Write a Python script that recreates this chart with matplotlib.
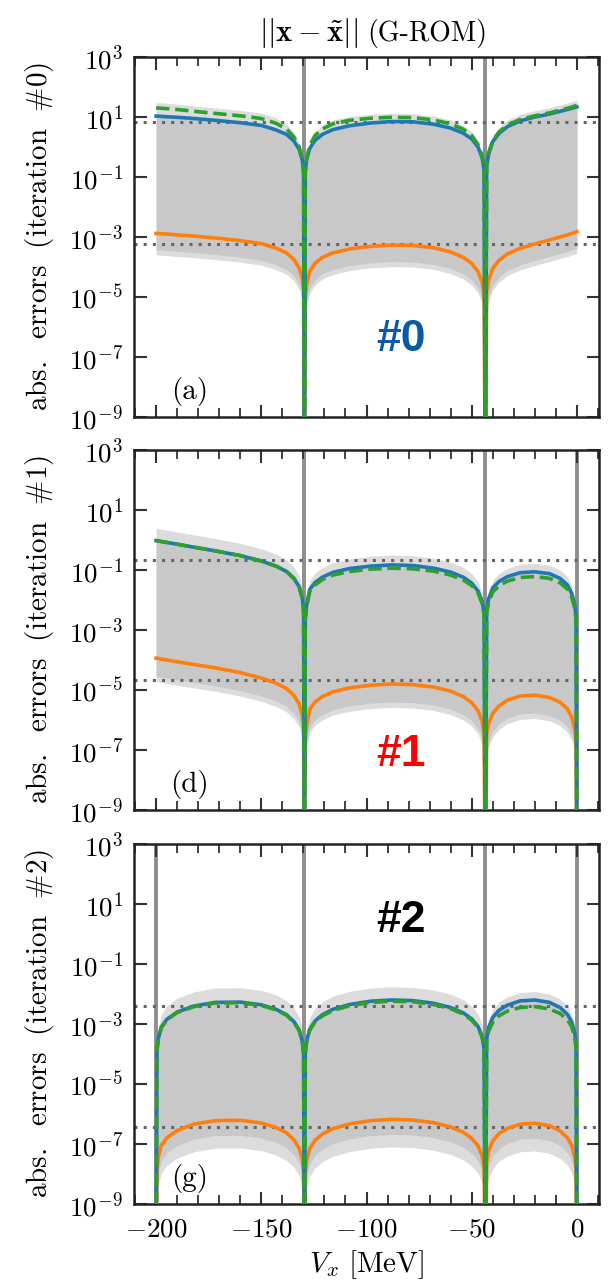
import numpy as np
import matplotlib
matplotlib.use("Agg")
import matplotlib.pyplot as plt
from matplotlib.ticker import MultipleLocator, NullLocator

# ---------------------------------------------------------------------------
# Data: absolute emulator errors vs. V_x (MeV), stored as log10 values
# ---------------------------------------------------------------------------
V = [-200, -199.6, -199, -197.5, -195, -190, -182, -172, -160, -150, -143, -138,
     -134.5, -132, -130.5, -129.9, -129.5, -129.1, -128.5, -127, -124.5, -121,
     -116, -108, -98, -88, -78, -68, -60, -54, -50, -47, -45, -44.1, -43.5,
     -42.9, -42, -40, -37, -33, -27, -20, -13, -8, -4.5, -2.5, -1, -0.4, 0]

# iteration #0
it0_blue = [1.03, 1.03, 1.03, 1.02, 1.01, 0.99, 0.95, 0.89, 0.81, 0.72, 0.57, 0.42, 0.2, -0.08, -0.45, -0.85, -12,
            -0.85, -0.45, -0.05, 0.22, 0.42, 0.58, 0.71, 0.8, 0.85, 0.84, 0.76, 0.63, 0.46, 0.27, 0.0, -0.37, -0.77, -12,
            -0.65, -0.25, 0.18, 0.45, 0.68, 0.87, 1.0, 1.1, 1.19, 1.25, 1.29, 1.32, 1.33, 1.34]
it0_green = [1.3, 1.3, 1.3, 1.29, 1.28, 1.25, 1.19, 1.12, 1.04, 0.95, 0.79, 0.6, 0.33, 0.0, -0.4, -0.8, -12,
             -0.8, -0.4, 0.05, 0.38, 0.6, 0.77, 0.89, 0.96, 0.99, 0.98, 0.9, 0.77, 0.59, 0.38, 0.08, -0.3, -0.72, -12,
             -0.6, -0.2, 0.22, 0.5, 0.73, 0.92, 1.04, 1.14, 1.23, 1.29, 1.33, 1.36, 1.38, 1.39]
it0_orange = [-2.88, -2.88, -2.88, -2.89, -2.9, -2.93, -2.97, -3.03, -3.12, -3.22, -3.37, -3.53, -3.75, -4.03, -4.4, -4.8, -12,
              -5.0, -4.6, -4.15, -3.88, -3.68, -3.53, -3.4, -3.31, -3.27, -3.28, -3.36, -3.5, -3.68, -3.88, -4.15, -4.52, -4.92, -12,
              -4.85, -4.45, -4.05, -3.78, -3.56, -3.38, -3.23, -3.1, -3.0, -2.93, -2.88, -2.85, -2.83, -2.82]
it0_band_top = [1.48, 1.48, 1.48, 1.47, 1.46, 1.43, 1.37, 1.3, 1.22, 1.13, 0.97, 0.77, 0.5, 0.15, -0.3, -0.72, -12,
                -0.72, -0.3, 0.17, 0.5, 0.72, 0.9, 1.02, 1.09, 1.12, 1.11, 1.03, 0.9, 0.72, 0.51, 0.2, -0.2, -0.65, -12,
                -0.5, -0.08, 0.37, 0.66, 0.9, 1.09, 1.21, 1.31, 1.4, 1.47, 1.51, 1.54, 1.56, 1.57]
it0_band_lo = [-3.43, -3.43, -3.43, -3.44, -3.45, -3.48, -3.52, -3.58, -3.67, -3.77, -3.92, -4.08, -4.3, -4.58, -4.95, -5.35, -12,
               -5.55, -5.15, -4.7, -4.43, -4.23, -4.08, -3.95, -3.86, -3.82, -3.83, -3.91, -4.05, -4.23, -4.43, -4.7, -5.07, -5.47, -12,
               -5.4, -5.0, -4.6, -4.33, -4.11, -3.93, -3.78, -3.65, -3.55, -3.48, -3.43, -3.4, -3.38, -3.37]
it0_band_bot = [-3.6, -3.6, -3.6, -3.61, -3.62, -3.65, -3.69, -3.75, -3.84, -3.94, -4.09, -4.25, -4.47, -4.75, -5.12, -5.52, -12,
                -5.72, -5.32, -4.87, -4.6, -4.4, -4.25, -4.12, -4.03, -3.99, -4.0, -4.08, -4.22, -4.4, -4.6, -4.87, -5.24, -5.64, -12,
                -5.57, -5.17, -4.77, -4.5, -4.28, -4.1, -3.95, -3.82, -3.72, -3.65, -3.6, -3.57, -3.55, -3.54]

# iteration #1
it1_blue = [-0.02, -0.02, -0.03, -0.05, -0.08, -0.14, -0.24, -0.36, -0.52, -0.7, -0.87, -1.05, -1.28, -1.56, -1.95, -2.35, -12,
            -2.6, -2.2, -1.65, -1.42, -1.24, -1.08, -0.95, -0.87, -0.83, -0.85, -0.94, -1.07, -1.24, -1.44, -1.7, -2.06, -2.46, -12,
            -2.35, -1.97, -1.6, -1.38, -1.22, -1.09, -1.06, -1.12, -1.28, -1.5, -1.78, -2.17, -2.57, -12]
it1_green = [-0.02, -0.02, -0.03, -0.05, -0.08, -0.14, -0.24, -0.36, -0.52, -0.7, -0.87, -1.05, -1.28, -1.56, -1.95, -2.35, -12,
             -2.65, -2.25, -1.72, -1.5, -1.32, -1.17, -1.05, -0.97, -0.94, -0.96, -1.04, -1.17, -1.33, -1.52, -1.77, -2.12, -2.5, -12,
             -2.45, -2.08, -1.73, -1.52, -1.37, -1.25, -1.22, -1.28, -1.43, -1.64, -1.9, -2.28, -2.67, -12]
it1_orange = [-3.94, -3.94, -3.95, -3.97, -4.0, -4.06, -4.15, -4.26, -4.42, -4.6, -4.77, -4.95, -5.18, -5.46, -5.85, -6.25, -12,
              -6.6, -6.2, -5.65, -5.4, -5.22, -5.06, -4.93, -4.84, -4.8, -4.82, -4.9, -5.04, -5.22, -5.42, -5.69, -6.05, -6.45, -12,
              -6.5, -6.12, -5.78, -5.53, -5.34, -5.2, -5.17, -5.25, -5.41, -5.63, -5.9, -6.29, -6.69, -12]
it1_band_top = [0.39, 0.39, 0.38, 0.36, 0.33, 0.27, 0.17, 0.05, -0.11, -0.29, -0.47, -0.66, -0.9, -1.2, -1.6, -2.05, -12,
                -2.3, -1.9, -1.35, -1.1, -0.92, -0.76, -0.63, -0.54, -0.5, -0.52, -0.61, -0.74, -0.91, -1.12, -1.4, -1.77, -2.2, -12,
                -2.1, -1.72, -1.34, -1.11, -0.95, -0.81, -0.78, -0.84, -1.0, -1.22, -1.5, -1.9, -2.3, -12]
it1_band_lo = [-4.54, -4.54, -4.55, -4.57, -4.6, -4.66, -4.75, -4.86, -5.02, -5.2, -5.37, -5.55, -5.78, -6.06, -6.45, -6.85, -12,
               -7.2, -6.8, -6.25, -6.0, -5.82, -5.66, -5.53, -5.44, -5.4, -5.42, -5.5, -5.64, -5.82, -6.02, -6.29, -6.65, -7.05, -12,
               -7.1, -6.72, -6.38, -6.13, -5.94, -5.8, -5.77, -5.85, -6.01, -6.23, -6.5, -6.89, -7.29, -12]
it1_band_bot = [-4.72, -4.72, -4.73, -4.75, -4.78, -4.84, -4.93, -5.04, -5.2, -5.38, -5.55, -5.73, -5.96, -6.24, -6.63, -7.03, -12,
                -7.38, -6.98, -6.43, -6.18, -6.0, -5.84, -5.71, -5.62, -5.58, -5.6, -5.68, -5.82, -6.0, -6.2, -6.47, -6.83, -7.23, -12,
                -7.28, -6.9, -6.56, -6.31, -6.12, -5.98, -5.95, -6.03, -6.19, -6.41, -6.68, -7.07, -7.47, -12]

# iteration #2
it2_blue = [-12, -3.9, -3.5, -3.1, -2.85, -2.6, -2.4, -2.28, -2.27, -2.36, -2.51, -2.69, -2.92, -3.2, -3.58, -3.98, -12,
            -3.98, -3.58, -3.18, -2.9, -2.69, -2.51, -2.35, -2.24, -2.2, -2.22, -2.31, -2.45, -2.63, -2.83, -3.08, -3.42, -3.82, -12,
            -3.5, -3.12, -2.78, -2.54, -2.37, -2.23, -2.2, -2.28, -2.45, -2.68, -2.93, -3.32, -3.72, -12]
it2_green = [-12, -3.92, -3.52, -3.12, -2.87, -2.62, -2.42, -2.3, -2.29, -2.38, -2.53, -2.71, -2.94, -3.22, -3.6, -4.0, -12,
             -4.0, -3.6, -3.21, -2.94, -2.73, -2.55, -2.39, -2.28, -2.24, -2.26, -2.35, -2.49, -2.67, -2.87, -3.12, -3.46, -3.86, -12,
             -3.6, -3.25, -2.94, -2.72, -2.57, -2.45, -2.42, -2.5, -2.65, -2.86, -3.08, -3.45, -3.82, -12]
it2_orange = [-12, -7.85, -7.45, -7.05, -6.8, -6.55, -6.34, -6.22, -6.21, -6.3, -6.45, -6.63, -6.86, -7.14, -7.52, -7.92, -12,
              -7.96, -7.56, -7.16, -6.88, -6.67, -6.49, -6.33, -6.22, -6.18, -6.2, -6.29, -6.43, -6.61, -6.81, -7.06, -7.4, -7.8, -12,
              -7.6, -7.24, -6.9, -6.65, -6.48, -6.34, -6.31, -6.39, -6.56, -6.79, -7.04, -7.43, -7.83, -12]
it2_band_top = [-12, -3.5, -3.1, -2.68, -2.4, -2.14, -1.93, -1.8, -1.79, -1.88, -2.03, -2.22, -2.46, -2.76, -3.15, -3.55, -12,
                -3.6, -3.2, -2.78, -2.48, -2.26, -2.07, -1.91, -1.8, -1.76, -1.78, -1.87, -2.01, -2.19, -2.4, -2.66, -3.02, -3.42, -12,
                -3.25, -2.86, -2.5, -2.26, -2.09, -1.95, -1.92, -2.0, -2.17, -2.4, -2.66, -3.05, -3.45, -12]
it2_band_lo = [-12, -8.35, -7.95, -7.55, -7.3, -7.05, -6.84, -6.72, -6.71, -6.8, -6.95, -7.13, -7.36, -7.64, -8.02, -8.42, -12,
               -8.46, -8.06, -7.66, -7.38, -7.17, -6.99, -6.83, -6.72, -6.68, -6.7, -6.79, -6.93, -7.11, -7.31, -7.56, -7.9, -8.3, -12,
               -8.1, -7.74, -7.4, -7.15, -6.98, -6.84, -6.81, -6.89, -7.06, -7.29, -7.54, -7.93, -8.33, -12]
it2_band_bot = [-12, -8.77, -8.37, -7.97, -7.72, -7.47, -7.26, -7.14, -7.13, -7.22, -7.37, -7.55, -7.78, -8.06, -8.44, -8.84, -12,
                -8.88, -8.48, -8.08, -7.8, -7.59, -7.41, -7.25, -7.14, -7.1, -7.12, -7.21, -7.35, -7.53, -7.73, -7.98, -8.32, -8.72, -12,
                -8.52, -8.16, -7.82, -7.57, -7.4, -7.26, -7.23, -7.31, -7.48, -7.71, -7.96, -8.35, -8.75, -12]

# reference levels (dotted) and training points (vertical lines)
ref_levels = [[6.8, 5.9e-4], [2.1e-1, 2.1e-5], [4.0e-3, 3.7e-7]]
train_points = [[-129.5, -43.5], [-129.5, -43.5, 0.0], [-200.0, -129.5, -43.5, 0.0]]

panel_tags = ["(a)", "(d)", "(g)"]
iter_tags = ["#0", "#1", "#2"]
iter_colors = ["#0b5aaa", "#ff0000", "#000000"]
iter_tag_y = [0.214, 0.153, 0.788]

ytick_vals = [1e3, 1e1, 1e-1, 1e-3, 1e-5, 1e-7, 1e-9]
ytick_labels = [r"$10^{3}$", r"$10^{1}$", r"$10^{-1}$", r"$10^{-3}$",
                r"$10^{-5}$", r"$10^{-7}$", r"$10^{-9}$"]
xtick_vals = [-200, -150, -100, -50, 0]
xtick_labels = [r"$-200$", r"$-150$", r"$-100$", r"$-50$", r"$0$"]

panels = [
    (it0_blue, it0_green, it0_orange, it0_band_top, it0_band_lo, it0_band_bot),
    (it1_blue, it1_green, it1_orange, it1_band_top, it1_band_lo, it1_band_bot),
    (it2_blue, it2_green, it2_orange, it2_band_top, it2_band_lo, it2_band_bot),
]

# ---------------------------------------------------------------------------
plt.rcParams["mathtext.fontset"] = "cm"
plt.rcParams["font.family"] = ["DejaVu Serif"]

W, H = 611, 1281
fig = plt.figure(figsize=(W / 100, H / 100), dpi=100)

ax_left, ax_width, ax_height = 134 / W, 465 / W, 360 / H
ax_tops = [57, 450, 844]

x = np.asarray(V, dtype=float)


def pw(a):
    return 10.0 ** np.asarray(a, dtype=float)


for k, (blue, green, orange, btop, blo, bbot) in enumerate(panels):
    ax = fig.add_axes([ax_left, 1 - (ax_tops[k] + 360) / H, ax_width, ax_height])
    ax.set_yscale("log")
    ax.set_xlim(-210.5, 10.5)
    ax.set_ylim(1e-9, 1e3)

    # uncertainty band: light outer zone and denser core
    ax.fill_between(x, pw(bbot), pw(btop), color="#dcdcdc", lw=0, zorder=1)
    ax.fill_between(x, pw(blo), pw(blue), color="#c8c8c8", lw=0, zorder=1.1)

    for xv in train_points[k]:
        ax.axvline(xv, color="#8e8e8e", lw=2.8, zorder=1.5)
    for yv in ref_levels[k]:
        ax.axhline(yv, color="#666666", lw=2.2, ls=(0, (1, 2)), zorder=1.6)

    ax.plot(x, pw(orange), color="#ff7f0e", lw=2.6, zorder=3)
    ax.plot(x, pw(blue), color="#1f77b4", lw=2.6, zorder=4)
    ax.plot(x, pw(green), color="#2ca02c", lw=2.6, ls="--", zorder=5)

    ax.set_yticks(ytick_vals)
    ax.set_yticklabels(ytick_labels)
    ax.yaxis.set_minor_locator(NullLocator())
    ax.set_xticks(xtick_vals)
    ax.xaxis.set_minor_locator(MultipleLocator(10))
    if k < 2:
        ax.set_xticklabels([])
    else:
        ax.set_xticklabels(xtick_labels)

    ax.tick_params(which="both", direction="in", top=True, right=True,
                   color="#333333", labelsize=19.5)
    ax.tick_params(which="major", length=9, width=1.5, pad=8)
    ax.tick_params(which="minor", length=6.5, width=1.3)
    for sp in ax.spines.values():
        sp.set_color("#222222")
        sp.set_linewidth(1.8)

    ax.text(0.12, 0.07, panel_tags[k], transform=ax.transAxes, fontsize=21,
            family="cmr10", ha="center", va="center")
    ax.text(0.574, iter_tag_y[k], iter_tags[k], transform=ax.transAxes,
            fontsize=32, fontweight="bold", family="Liberation Sans",
            color=iter_colors[k], ha="center", va="center", zorder=6)

    yc = 1 - (ax_tops[k] + 180) / H
    fig.text(40 / W, yc, r"$\mathrm{abs.\ \ errors\ \ (iteration\ \ \#%d)}$" % k,
             rotation=90, ha="center", va="center", fontsize=21)

# title
fig.text(358 / W, 1 - 41 / H, r"$||\mathbf{x}-\tilde{\mathbf{x}}||$",
         ha="right", va="baseline", fontsize=22)
fig.text(367 / W, 1 - 41 / H, "(G-ROM)", family="cmr10",
         ha="left", va="baseline", fontsize=20)

# x label
fig.text(367 / W, 1 - 1265 / H, r"$V_x\ [\mathrm{MeV}]$", ha="center",
         va="center", fontsize=21)

fig.savefig("out.png", dpi=100)
